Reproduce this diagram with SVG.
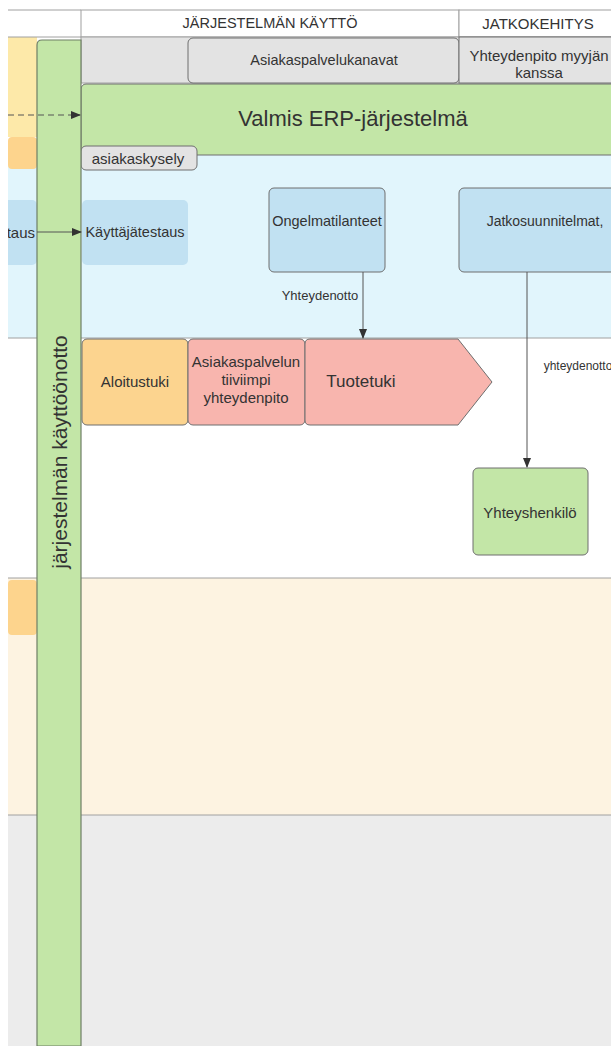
<svg xmlns="http://www.w3.org/2000/svg" width="611" height="1046" viewBox="0 0 611 1046">
  <style>
    .t { font-family: "Liberation Sans", Arial, sans-serif; fill: #333; text-anchor: middle; dominant-baseline: central; }
    .s15 { font-size: 15px; }
    .s14 { font-size: 14.5px; }
    .lane { stroke: #a0a0a0; stroke-width: 1; }
    .box { stroke: #6f6f6f; stroke-width: 1; }
    .conn { stroke: #555; stroke-width: 1; fill: none; }
  </style>
  <defs>
    <marker id="arr" markerWidth="10" markerHeight="8" refX="9" refY="4" orient="auto" markerUnits="userSpaceOnUse">
      <path d="M0,0 L10,4 L0,8 Z" fill="#333"/>
    </marker>
    <clipPath id="leftcol">
      <rect x="8" y="0" width="603" height="1046"/>
    </clipPath>
  </defs>

  <rect x="0" y="0" width="611" height="1046" fill="#ffffff"/>

  <!-- swimlane bands -->
  <g id="lanes">
    <rect x="8" y="37" width="29" height="100" fill="#fde9a9"/>
    <rect x="8" y="155" width="603" height="183" fill="#e1f5fc"/>
    <rect x="8" y="137" width="29" height="32" rx="4" fill="#fdd48d"/>
    <rect x="8" y="338" width="603" height="240" fill="#ffffff"/>
    <rect x="8" y="578" width="603" height="237" fill="#fdf3e1"/>
    <rect x="8" y="580" width="29" height="55" rx="4" fill="#fdd48d"/>
    <rect x="8" y="815" width="603" height="231" fill="#ececec"/>
    <line class="lane" x1="8" y1="338" x2="611" y2="338"/>
    <line class="lane" x1="8" y1="578" x2="611" y2="578"/>
    <line class="lane" x1="8" y1="815" x2="611" y2="815"/>
  </g>

  <!-- phase header -->
  <g id="header">
    <line class="lane" x1="8" y1="10" x2="81" y2="10"/>
    <line class="lane" x1="8" y1="37" x2="81" y2="37"/>
    <rect x="81" y="10" width="378" height="27" fill="#ffffff" class="lane"/>
    <rect x="459" y="10" width="160" height="27" fill="#ffffff" class="lane"/>
    <text class="t s14" x="270" y="23">JÄRJESTELMÄN KÄYTTÖ</text>
    <text class="t s15" x="538" y="23">JATKOKEHITYS</text>
  </g>

  <g id="channels-row">
    <rect x="81" y="37" width="530" height="46" fill="#e3e3e3" class="lane"/>
  </g>

  <g id="asiakaspalvelukanavat">
    <rect x="188" y="38" width="271" height="45" rx="5" fill="#e3e3e3" class="box"/>
    <text class="t s14" x="324" y="60">Asiakaspalvelukanavat</text>
  </g>

  <g id="yhteydenpito-myyja">
    <rect x="459" y="37" width="160" height="46" fill="#e3e3e3" class="box"/>
    <text class="t s15" x="539" y="55">Yhteydenpito myyjän</text>
    <text class="t s15" x="539" y="72">kanssa</text>
  </g>

  <g id="erp">
    <rect x="81" y="84" width="540" height="71" rx="5" fill="#c3e6a7" class="box"/>
    <text class="t" x="353" y="118" font-size="22">Valmis ERP-järjestelmä</text>
  </g>

  <g id="asiakaskysely">
    <rect x="81" y="146" width="116" height="24" rx="5" fill="#e3e3e3" class="box"/>
    <text class="t s15" x="138" y="158">asiakaskysely</text>
  </g>

  <g id="testaus-prev" clip-path="url(#leftcol)">
    <rect x="-10" y="200" width="47" height="65" rx="5" fill="#c1e1f2"/>
    <text class="t s15" x="35" y="232" style="text-anchor:end">taus</text>
  </g>

  <g id="kayttajatestaus">
    <rect x="82" y="200" width="106" height="65" rx="5" fill="#c1e1f2"/>
    <text class="t s14" x="135" y="232">Käyttäjätestaus</text>
  </g>

  <g id="ongelmatilanteet">
    <rect x="269" y="188" width="116" height="84" rx="5" fill="#c1e1f2" class="box"/>
    <text class="t s14" x="327" y="221">Ongelmatilanteet</text>
  </g>

  <g id="jatkosuunnitelmat">
    <rect x="459" y="188" width="160" height="84" rx="5" fill="#c1e1f2" class="box"/>
    <text class="t" x="545" y="221" font-size="14">Jatkosuunnitelmat,</text>
  </g>

  <g id="aloitustuki">
    <rect x="82" y="339" width="106" height="86" rx="5" fill="#fcd48f" class="box"/>
    <text class="t s15" x="135" y="381">Aloitustuki</text>
  </g>

  <g id="tiiviimpi-yhteydenpito">
    <rect x="188" y="339" width="117" height="86" rx="5" fill="#f8b5ae" class="box"/>
    <text class="t s15" x="246" y="361">Asiakaspalvelun</text>
    <text class="t s15" x="246" y="379">tiiviimpi</text>
    <text class="t s15" x="246" y="397">yhteydenpito</text>
  </g>

  <g id="tuotetuki">
    <path d="M310,339 H458 L492,382 L458,425 H310 Q305,425 305,420 V344 Q305,339 310,339 Z" fill="#f8b5ae" class="box"/>
    <text class="t" x="361" y="381" font-size="17">Tuotetuki</text>
  </g>

  <g id="yhteyshenkilo">
    <rect x="473" y="468" width="115" height="87" rx="5" fill="#c3e6a7" class="box"/>
    <text class="t s15" x="530" y="512">Yhteyshenkilö</text>
  </g>

  <!-- vertical lane title bar -->
  <g id="kayttoonotto">
    <path d="M42,40 H81 V1046 H37 V45 Q37,40 42,40 Z" fill="#c3e6a7" stroke="#6f7f66" stroke-width="1.2"/>
    <text class="t" x="59" y="452" font-size="21" transform="rotate(-90 59 452)">järjestelmän käyttöönotto</text>
  </g>

  <g id="connectors">
    <line class="conn" x1="8" y1="115" x2="80" y2="115" stroke-dasharray="6,4" marker-end="url(#arr)"/>
    <line class="conn" x1="37" y1="232" x2="81" y2="232" marker-end="url(#arr)"/>
    <line class="conn" x1="363" y1="272" x2="363" y2="338" marker-end="url(#arr)"/>
    <line class="conn" x1="527" y1="272" x2="527" y2="467" marker-end="url(#arr)"/>
    <rect x="281" y="287" width="80" height="16" fill="#e1f5fc"/>
    <text class="t" x="320" y="295" font-size="13">Yhteydenotto</text>
    <rect x="546" y="358" width="65" height="16" fill="#ffffff"/>
    <text class="t" x="578" y="366" font-size="12">yhteydenotto</text>
  </g>
</svg>
